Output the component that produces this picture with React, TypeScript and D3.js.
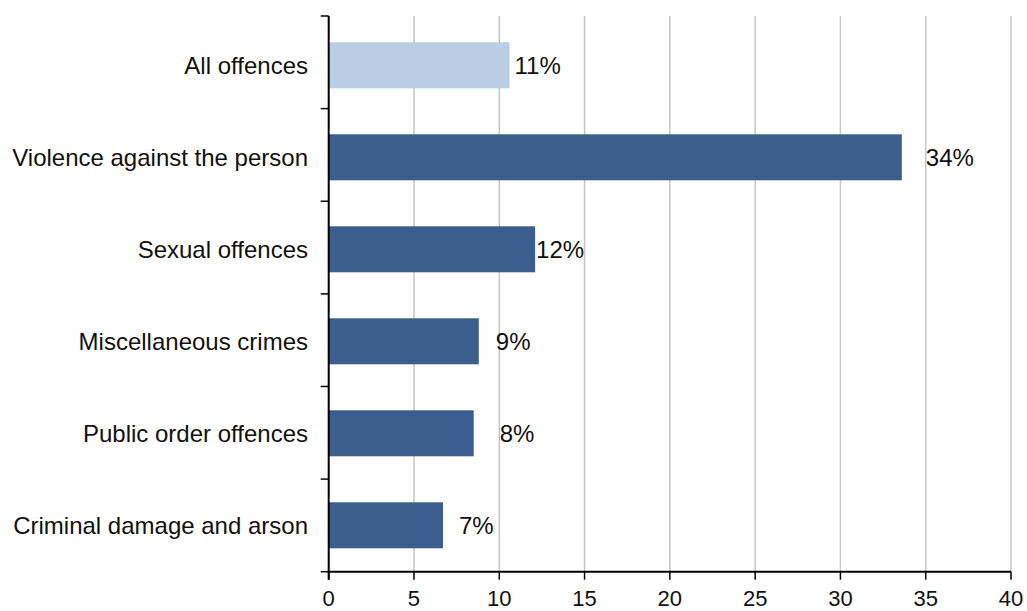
import React from "react";
import * as d3 from "d3";

const categories = [
  "All offences",
  "Violence against the person",
  "Sexual offences",
  "Miscellaneous crimes",
  "Public order offences",
  "Criminal damage and arson",
];
const values = [10.6, 33.6, 12.1, 8.8, 8.5, 6.7];
const valueLabels = ["11%", "34%", "12%", "9%", "8%", "7%"];
const xTicks = [0, 5, 10, 15, 20, 25, 30, 35, 40];
// label horizontal offsets (style, mimic the original's label placement)
const labelDx = [5, 24, 1, 17, 26, 16];

const W = 1027;
const H = 611;
const M = { left: 328.7, right: 1011, top: 16, bottom: 571.7 };
const FONT = "'Liberation Sans', Arial, sans-serif";

export default function App() {
  const x = d3.scaleLinear().domain([0, 40]).range([M.left, M.right]);
  const y = d3
    .scaleBand<string>()
    .domain(categories)
    .range([M.top + 3.3, M.bottom - 0.4])
    .paddingInner(0.5)
    .paddingOuter(0.25);
  const bandTicks = d3
    .range(categories.length + 1)
    .map((i) => M.top + i * ((M.bottom - M.top) / categories.length));

  return (
    <svg
      width={W}
      height={H}
      style={{ position: "absolute", left: 0, top: 0, display: "block", background: "#fff" }}
      fontFamily={FONT}
    >
      {xTicks.filter((t) => t > 0).map((t) => (
        <line key={"g" + t} x1={x(t)} x2={x(t)} y1={M.top} y2={M.bottom} stroke="#c6c6c6" strokeWidth={1.5} />
      ))}
      {categories.map((c, i) => (
        <rect
          key={c}
          x={x(0)}
          y={y(c)!}
          width={x(values[i]) - x(0)}
          height={y.bandwidth()}
          fill={i === 0 ? "#B9CDE5" : "#3B5E8E"}
        />
      ))}
      {categories.map((c, i) => (
        <text
          key={"v" + c}
          x={x(values[i]) + labelDx[i]}
          y={y(c)! + y.bandwidth() / 2}
          dy="0.35em"
          fontSize={24}
          fill="#111"
        >
          {valueLabels[i]}
        </text>
      ))}
      {categories.map((c) => (
        <text
          key={"c" + c}
          x={308}
          y={y(c)! + y.bandwidth() / 2}
          dy="0.35em"
          textAnchor="end"
          fontSize={24}
          fill="#111"
        >
          {c}
        </text>
      ))}
      <line x1={M.left} x2={M.left} y1={M.top} y2={M.bottom + 8} stroke="#000" strokeWidth={2} />
      {bandTicks.map((t, i) => (
        <line key={"yt" + i} x1={M.left - 8} x2={M.left} y1={t} y2={t} stroke="#000" strokeWidth={1.5} />
      ))}
      <line x1={M.left} x2={M.right} y1={M.bottom} y2={M.bottom} stroke="#000" strokeWidth={2} />
      {xTicks.map((t) => (
        <g key={"xt" + t}>
          <line x1={x(t)} x2={x(t)} y1={M.bottom} y2={M.bottom + 8} stroke="#000" strokeWidth={1.5} />
          <text x={x(t)} y={606} textAnchor="middle" fontSize={22} fill="#111">
            {t}
          </text>
        </g>
      ))}
    </svg>
  );
}
